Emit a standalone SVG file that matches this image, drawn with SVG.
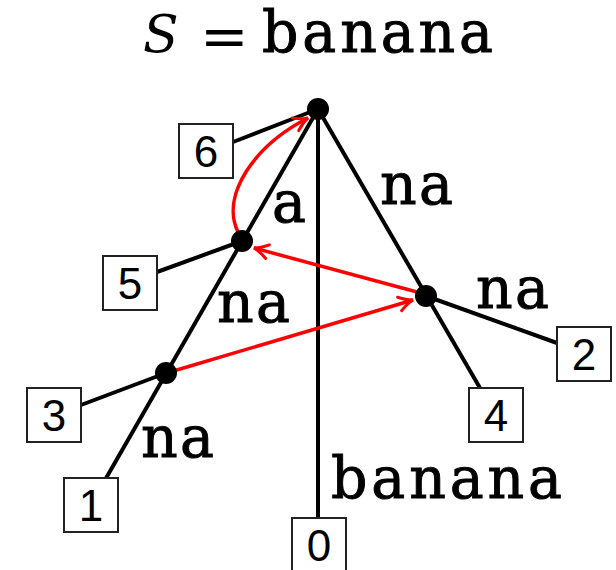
<svg xmlns="http://www.w3.org/2000/svg" width="616" height="570" viewBox="0 0 616 570">
<style>
.edge{stroke:#000;stroke-width:4;fill:none}
.red{stroke:#f00;stroke-width:3.5;fill:none;marker-end:url(#ah)}
.node{fill:#000}
.box{fill:#fff;stroke:#222;stroke-width:2}
.num{font-family:"Liberation Sans",Arial,sans-serif;font-size:44px;text-anchor:middle;fill:#000}
.tt{font-family:"DejaVu Serif",serif;font-size:57px;fill:#000;stroke:#000;stroke-width:0.9}
</style>
<defs>
<marker id="ah" markerUnits="userSpaceOnUse" orient="auto" overflow="visible" refX="0" refY="0" markerWidth="1" markerHeight="1">
<path d="M-14,-7 Q-5,-1 0,0 Q-5,1 -14,7" fill="none" stroke="#f00" stroke-width="3" stroke-linecap="round"/>
</marker>
</defs>
<g id="title">
<text x="143" y="52" font-family="DejaVu Serif,serif" font-style="italic" font-size="52">S</text>
<text x="200" y="56" font-family="DejaVu Serif,serif" font-size="58">=</text>
<text class="tt" x="262" y="52" textLength="231" lengthAdjust="spacing">banana</text>
</g>
<g id="connectors">
<line class="edge" x1="318" y1="109" x2="233" y2="142"/>
<line class="edge" x1="318" y1="109" x2="105" y2="480"/>
<line class="edge" x1="318" y1="109" x2="318" y2="518"/>
<line class="edge" x1="318" y1="109" x2="480" y2="388"/>
<line class="edge" x1="242" y1="241" x2="157" y2="272"/>
<line class="edge" x1="166" y1="373" x2="81" y2="405"/>
<line class="edge" x1="426" y1="296" x2="557" y2="343"/>
<path class="red" d="M238,232 C220,195 255,145 308,118"/>
<path class="red" d="M417,292 L254,248"/>
<path class="red" d="M170,372 L413,300"/>
<text class="tt" x="272" y="222">a</text>
<text class="tt" x="380" y="204" textLength="73" lengthAdjust="spacing">na</text>
<text class="tt" x="476" y="308" textLength="73" lengthAdjust="spacing">na</text>
<text class="tt" x="217" y="322" textLength="73" lengthAdjust="spacing">na</text>
<text class="tt" x="141" y="457" textLength="73" lengthAdjust="spacing">na</text>
<text class="tt" x="331" y="498" textLength="231" lengthAdjust="spacing">banana</text>
</g>
<g id="n-root"><circle class="node" cx="318" cy="109" r="11"/></g>
<g id="n-a"><circle class="node" cx="242" cy="241" r="11"/></g>
<g id="n-na"><circle class="node" cx="426" cy="296" r="11"/></g>
<g id="n-ana"><circle class="node" cx="166" cy="373" r="11"/></g>
<g id="leaf6"><rect class="box" x="179" y="124" width="54" height="54"/><text class="num" x="206" y="167">6</text></g>
<g id="leaf5"><rect class="box" x="103" y="256" width="54" height="54"/><text class="num" x="130" y="299">5</text></g>
<g id="leaf3"><rect class="box" x="27" y="388" width="54" height="54"/><text class="num" x="54" y="431">3</text></g>
<g id="leaf1"><rect class="box" x="64" y="478" width="54" height="54"/><text class="num" x="91" y="521">1</text></g>
<g id="leaf0"><rect class="box" x="292" y="518" width="54" height="54"/><text class="num" x="319" y="561">0</text></g>
<g id="leaf4"><rect class="box" x="469" y="388" width="54" height="54"/><text class="num" x="496" y="431">4</text></g>
<g id="leaf2"><rect class="box" x="557" y="327" width="54" height="54"/><text class="num" x="584" y="370">2</text></g>
</svg>
